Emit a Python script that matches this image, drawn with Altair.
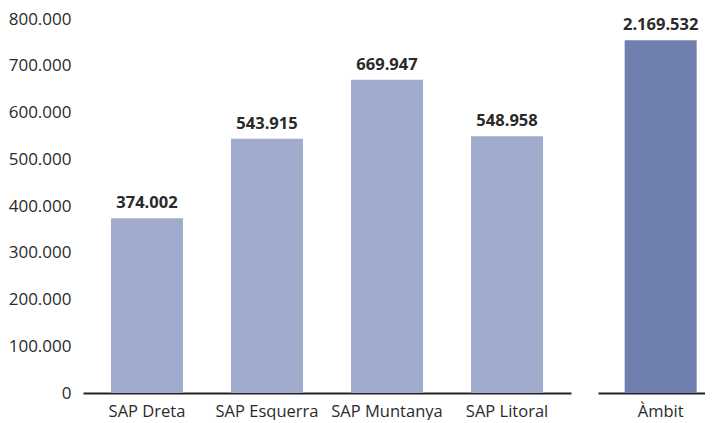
import altair as alt
import pandas as pd

categories = ["SAP Dreta", "SAP Esquerra", "SAP Muntanya", "SAP Litoral"]
values = [374002, 543915, 669947, 548958]
total_label = ["Àmbit"]
total_value = [2169532]
y_ticks = [0, 100000, 200000, 300000, 400000, 500000, 600000, 700000, 800000]

LIGHT = "#A1ABCD"
DARK = "#6F80AF"
FONT = "Open Sans"
TXT = "#2a2a2a"

fmt = "replace(replace(format(datum.v, ','), ',', '.'), ',', '.')"

df = pd.DataFrame({"cat": categories, "v": values})
dft = pd.DataFrame({"cat": total_label, "v": total_value})

x_axis = alt.Axis(title=None, labelAngle=0, labelFont=FONT, labelFontSize=16.5,
                  labelColor=TXT, labelPadding=10, ticks=False,
                  domainColor="#222222", domainWidth=2)

left_base = alt.Chart(df).transform_calculate(lbl=fmt).encode(
    x=alt.X("cat:N", sort=categories, axis=x_axis,
            scale=alt.Scale(paddingInner=0.4, paddingOuter=0.233)),
    y=alt.Y("v:Q", scale=alt.Scale(domain=[0, 800000], nice=False),
            axis=alt.Axis(title=None, values=y_ticks, grid=False, ticks=False,
                          domain=False, labelFont=FONT, labelFontSize=17,
                          labelColor=TXT, labelPadding=12,
                          labelExpr="replace(replace(format(datum.value, ','), ',', '.'), ',', '.')")),
)
left = alt.layer(
    left_base.mark_bar(color=LIGHT),
    left_base.mark_text(font=FONT, fontSize=16.5, fontWeight="bold", color=TXT,
                        baseline="alphabetic", dy=-10).encode(text="lbl:N"),
).properties(width=488, height=374)

right_base = alt.Chart(dft).transform_calculate(lbl=fmt).encode(
    x=alt.X("cat:N", axis=x_axis,
            scale=alt.Scale(paddingInner=0, paddingOuter=0.2, align=0.8)),
    y=alt.Y("v:Q", scale=alt.Scale(domain=[0, 2300000], nice=False), axis=None),
)
right = alt.layer(
    right_base.mark_bar(color=DARK, size=72),
    right_base.mark_text(font=FONT, fontSize=16.5, fontWeight="bold", color=TXT,
                         baseline="alphabetic", dy=-10).encode(text="lbl:N"),
).properties(width=107, height=374)

chart = alt.hconcat(left, right, spacing=27).resolve_scale(y="independent").properties(
    padding={"left": 0, "top": 2, "right": 0, "bottom": 0},
    background="white",
).configure_view(strokeWidth=0, stroke=None)

chart.save("out.html", embed_options={"renderer": "svg", "actions": False})
